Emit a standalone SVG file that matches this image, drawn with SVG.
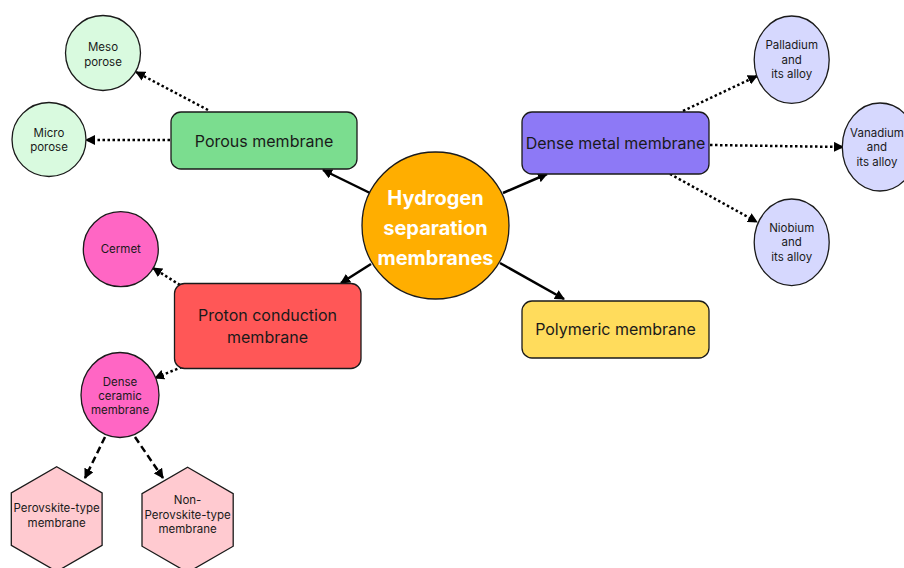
<svg xmlns="http://www.w3.org/2000/svg" width="904" height="568" viewBox="0 0 904 568">
<defs>
<marker id="ah" viewBox="0 0 10 10" refX="9" refY="5" markerWidth="10" markerHeight="10" markerUnits="userSpaceOnUse" orient="auto">
<path d="M0,0 L10,5 L0,10 z" fill="#000"/>
</marker>
<style>
text{font-family:"Inter","Liberation Sans",sans-serif;fill:#1a1a1a;text-anchor:middle;dominant-baseline:central}
.big{font-size:16px}
.sm{font-size:11.5px}
.hub{font-size:20px;font-weight:bold;fill:#fff}
.shape{stroke:#1a1a1a;stroke-width:1.3}
.solid{stroke:#000;stroke-width:2.5;fill:none;marker-end:url(#ah)}
.dot{stroke:#000;stroke-width:2.5;fill:none;stroke-dasharray:2.5 2.5;marker-end:url(#ah)}
.dash{stroke:#000;stroke-width:2.5;fill:none;stroke-dasharray:7 4;marker-end:url(#ah)}
</style>
</defs>
<rect width="904" height="568" fill="#fff"/>
<g id="connectors">
<line class="solid" x1="370" y1="193" x2="323" y2="170"/>
<line class="solid" x1="503" y1="193" x2="547" y2="174"/>
<line class="solid" x1="371" y1="264" x2="341" y2="283"/>
<line class="solid" x1="500" y1="263" x2="564" y2="299"/>
<line class="dot" x1="208" y1="110" x2="136" y2="72"/>
<line class="dot" x1="170" y1="140" x2="86" y2="140"/>
<line class="dot" x1="683" y1="111" x2="757" y2="76"/>
<line class="dot" x1="710" y1="145" x2="843" y2="147"/>
<line class="dot" x1="670" y1="174" x2="757" y2="222"/>
<line class="dot" x1="180" y1="285" x2="153" y2="268"/>
<line class="dot" x1="182" y1="367" x2="155" y2="378"/>
<line class="dash" x1="105" y1="437" x2="85" y2="478"/>
<line class="dash" x1="135" y1="437" x2="163" y2="478"/>
</g>
<g id="hub">
<circle class="shape" cx="435.5" cy="225.5" r="73.5" fill="#FFAE00"/>
<text class="hub" x="435.5" y="198">Hydrogen</text>
<text class="hub" x="435.5" y="228">separation</text>
<text class="hub" x="435.5" y="258">membranes</text>
</g>
<g id="porous">
<rect class="shape" x="171" y="112" width="186" height="57" rx="10" fill="#7BDD8F"/>
<text class="big" x="264" y="140.5">Porous membrane</text>
</g>
<g id="meso">
<circle class="shape" cx="103" cy="53" r="37.5" fill="#D9FADF"/>
<text class="sm" x="103" y="46.5">Meso</text>
<text class="sm" x="103" y="61.5">porose</text>
</g>
<g id="micro">
<circle class="shape" cx="49" cy="139.5" r="37" fill="#D9FADF"/>
<text class="sm" x="49" y="133">Micro</text>
<text class="sm" x="49" y="147">porose</text>
</g>
<g id="dense-metal">
<rect class="shape" x="522" y="112" width="187" height="62" rx="10" fill="#8D79F6"/>
<text class="big" x="615.5" y="143">Dense metal membrane</text>
</g>
<g id="palladium">
<ellipse class="shape" cx="791.7" cy="59.7" rx="37.5" ry="43.7" fill="#D6D8FE"/>
<text class="sm" x="791.7" y="44.5">Palladium</text>
<text class="sm" x="791.7" y="60">and</text>
<text class="sm" x="791.7" y="74">its alloy</text>
</g>
<g id="vanadium">
<ellipse class="shape" cx="880" cy="147" rx="37.7" ry="44" fill="#D6D8FE"/>
<text class="sm" x="877" y="132.5">Vanadium</text>
<text class="sm" x="877" y="147">and</text>
<text class="sm" x="877" y="162">its alloy</text>
</g>
<g id="niobium">
<ellipse class="shape" cx="791.7" cy="242.3" rx="37.5" ry="43.3" fill="#D6D8FE"/>
<text class="sm" x="791.7" y="227.5">Niobium</text>
<text class="sm" x="791.7" y="241.5">and</text>
<text class="sm" x="791.7" y="256.5">its alloy</text>
</g>
<g id="polymeric">
<rect class="shape" x="522" y="301" width="187" height="57" rx="10" fill="#FFDC5C"/>
<text class="big" x="615.5" y="329">Polymeric membrane</text>
</g>
<g id="proton">
<rect class="shape" x="174.5" y="283.5" width="186.5" height="85" rx="10" fill="#FF5757"/>
<text class="big" x="267.5" y="315">Proton conduction</text>
<text class="big" x="267.5" y="337">membrane</text>
</g>
<g id="cermet">
<circle class="shape" cx="120.8" cy="249.2" r="37.5" fill="#FF66C4"/>
<text class="sm" x="120.8" y="249.3">Cermet</text>
</g>
<g id="dense-ceramic">
<ellipse class="shape" cx="120" cy="395" rx="39" ry="42.5" fill="#FF66C4"/>
<text class="sm" x="120" y="381.5">Dense</text>
<text class="sm" x="120" y="395.5">ceramic</text>
<text class="sm" x="120" y="410">membrane</text>
</g>
<g id="perovskite">
<polygon class="shape" points="56.7,466.7 102.1,492.9 102.1,545.3 56.7,571.5 11.3,545.3 11.3,492.9" fill="#FFCAD0"/>
<text class="sm" x="56.7" y="507.5">Perovskite-type</text>
<text class="sm" x="56.7" y="522.5">membrane</text>
</g>
<g id="non-perovskite">
<polygon class="shape" points="187.6,467.3 233.2,493.6 233.2,546.2 187.6,572.5 142,546.2 142,493.6" fill="#FFCAD0"/>
<text class="sm" x="187.6" y="500">Non-</text>
<text class="sm" x="187.6" y="515">Perovskite-type</text>
<text class="sm" x="187.6" y="529">membrane</text>
</g>
</svg>
